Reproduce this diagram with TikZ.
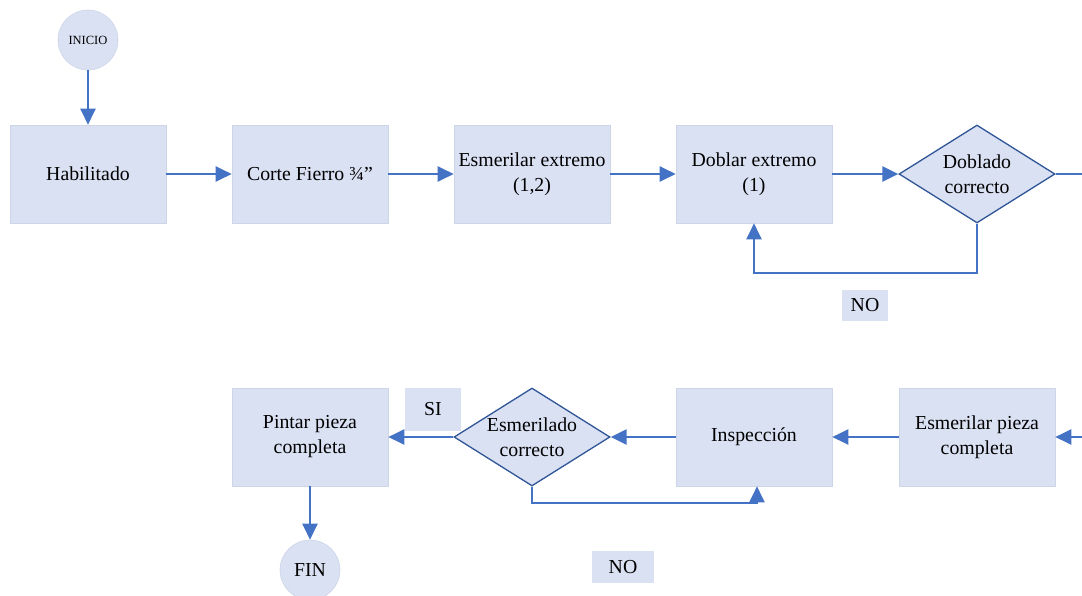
\documentclass[tikz,border=0pt]{standalone}
\usepackage{fontspec}
\setmainfont{Liberation Serif}
\usetikzlibrary{shapes.geometric,arrows.meta}
\definecolor{boxfill}{HTML}{DAE1F3}
\definecolor{boxedge}{HTML}{CDD5E8}
\definecolor{arrowblue}{HTML}{4472C4}
\definecolor{diaedge}{HTML}{2F5597}
\begin{document}
\begin{tikzpicture}[x=1pt,y=-1pt,
 every node/.style={font=\fontsize{19.8}{25}\selectfont},
 procbox/.style={rectangle,fill=boxfill,draw=boxedge,line width=0.6pt,minimum width=156pt,minimum height=98pt,inner sep=0pt,align=center},
 decbox/.style={diamond,fill=boxfill,draw=diaedge,line width=1.3pt,minimum width=156pt,minimum height=98pt,inner sep=0pt},
 termc/.style={circle,fill=boxfill,draw=boxedge,line width=0.6pt,minimum size=60pt,inner sep=0pt},
 tagbox/.style={rectangle,fill=boxfill,inner sep=0pt},
 flow/.style={draw=arrowblue,line width=2.3pt,-{Triangle[length=16pt,width=15pt]}},
 plain/.style={draw=arrowblue,line width=2.3pt}]
\useasboundingbox (0,0) rectangle (1082,595);

% row 1
\node[termc,font=\fontsize{12.5}{14}\selectfont] (ini) at (88,40) {INICIO};
\node[procbox] (b1) at (88,174) {Habilitado};
\node[procbox] (b2) at (310,174) {Corte Fierro ¾”};
\node[procbox] (b3) at (532,174) {Esmerilar extremo\\(1,2)};
\node[procbox] (b4) at (754,174) {Doblar extremo\\(1)};
\node[decbox,label={[align=center]center:Doblado\\correcto}] (d1) at (977,174) {};
\node[tagbox,minimum width=46pt,minimum height=31pt] (no1) at (865,305) {NO};
\coordinate (r1) at (1082,174);

% row 2
\node[procbox] (b5) at (310,437) {Pintar pieza\\completa};
\node[decbox,label={[align=center]center:Esmerilado\\correcto}] (d2) at (532,437) {};
\node[procbox] (b6) at (754,437) {Inspección};
\node[procbox] (b7) at (977,437) {Esmerilar pieza\\completa};
\node[tagbox,minimum width=56pt,minimum height=43pt] (si) at (433,409) {SI};
\node[tagbox,minimum width=62pt,minimum height=32pt] (no2) at (623,567) {NO};
\node[termc] (fin) at (310,570) {FIN};
\coordinate (r2) at (1082,437);

% connectors
\draw[flow] (ini.south) -- (b1.north);
\draw[flow] (b1.east) -- (b2.west);
\draw[flow] (b2.east) -- (b3.west);
\draw[flow] (b3.east) -- (b4.west);
\draw[flow] (b4.east) -- (d1.west);
\draw[plain] (d1.east) -- (r1);
\draw[flow] (d1.south) -- ++(0,49) -| (b4.south);

\draw[flow] (r2) -- (b7.east);
\draw[flow] (b7.west) -- (b6.east);
\draw[flow] (b6.west) -- (d2.east);
\draw[flow] (d2.west) -- (b5.east);
\draw[flow] (d2.south) -- ++(0,16) -| ([xshift=3pt]b6.south);
\draw[flow] (b5.south) -- (fin.north);
\end{tikzpicture}
\end{document}
